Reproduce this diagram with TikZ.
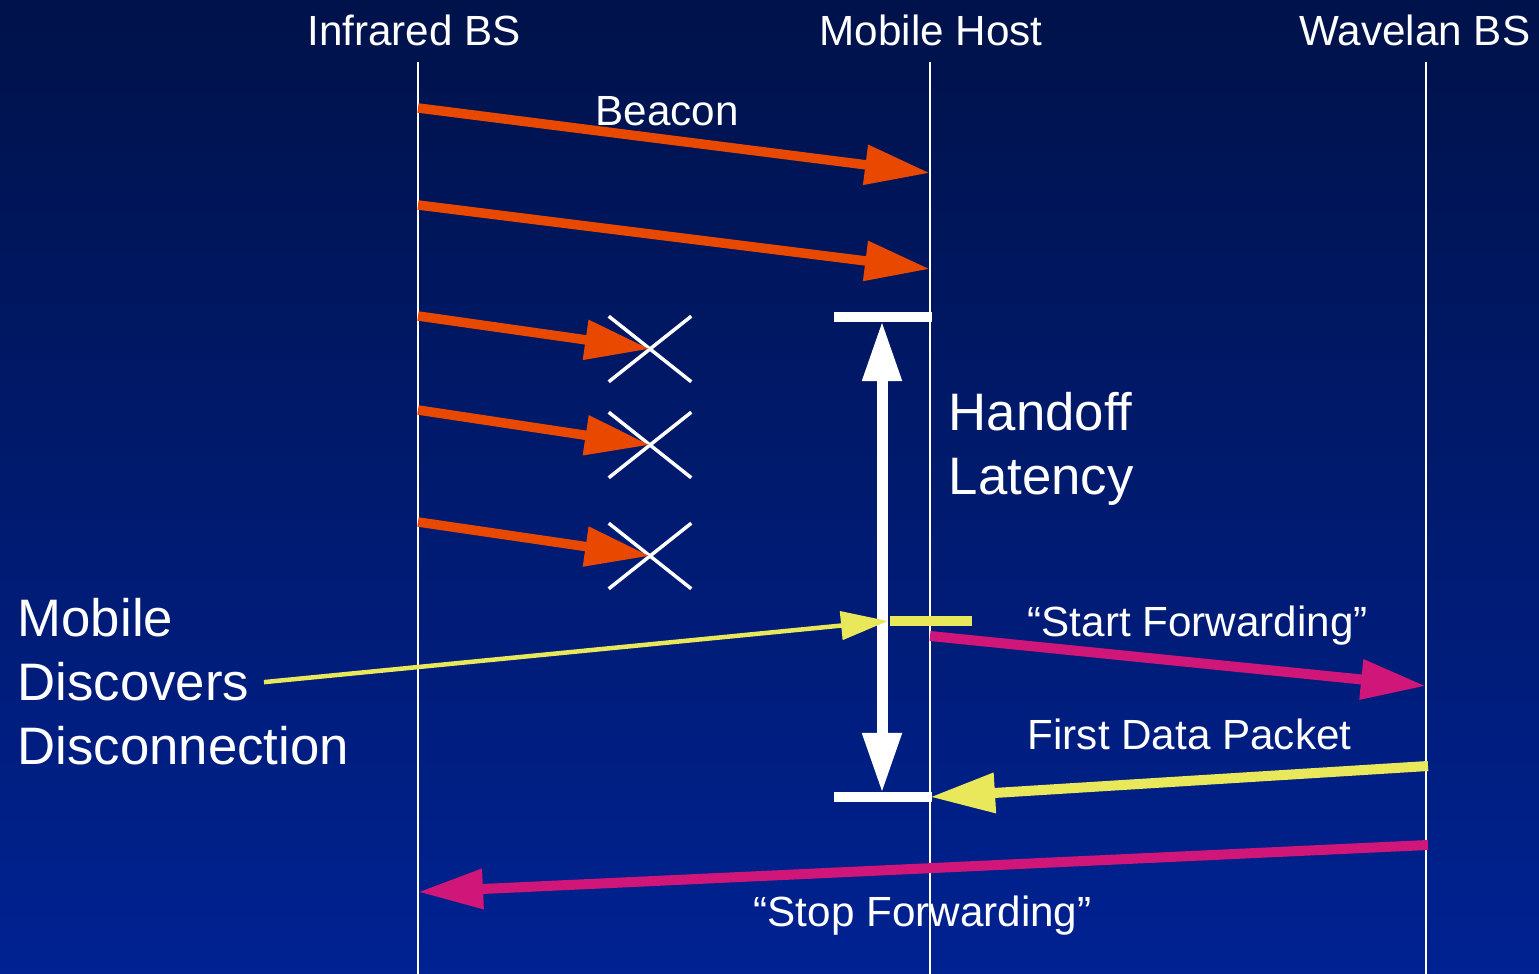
\documentclass[tikz,border=0pt]{standalone}
\usepackage{fontspec}
\setmainfont{Liberation Sans}
\usetikzlibrary{arrows.meta,shapes.misc}

\definecolor{bgtop}{RGB}{0,18,74}
\definecolor{bgbot}{RGB}{0,34,146}
\definecolor{beaconc}{RGB}{232,72,0}
\definecolor{signalc}{RGB}{232,232,90}
\definecolor{ctrlc}{RGB}{208,22,120}

\begin{document}
\begin{tikzpicture}[x=0.01cm,y=-0.01cm,
  lifeline/.style={white, line width=0.02cm},
  msg/.style={line width=0.095cm, -{Triangle[length=0.65cm,width=0.38cm]}},
  thinmsg/.style={line width=0.045cm, -{Triangle[length=0.47cm,width=0.28cm]}},
  label/.style={text=white, inner sep=0pt, font=\fontsize{12}{14}\selectfont},
  biglabel/.style={text=white, inner sep=0pt, font=\fontsize{15}{18}\selectfont},
  lost/.style={cross out, draw=white, line width=0.035cm, inner sep=0pt,
               minimum width=0.79cm, minimum height=0.62cm},
  bar/.style={white, line width=0.1cm},
]
% background
\shade[top color=bgtop, bottom color=bgbot] (0,0) rectangle (1539,974);
\useasboundingbox (0,0) rectangle (1539,974);

% column headings
\node[label, anchor=base] (ir) at (414,46) {Infrared BS};
\node[label, anchor=base] (mh) at (931,46) {Mobile Host};
\node[label, anchor=base east] (wl) at (1531,46) {Wavelan BS};

% lifelines
\coordinate (irT) at (418,62);  \coordinate (irB) at (418,974);
\coordinate (mhT) at (930,62);  \coordinate (mhB) at (930,974);
\coordinate (wlT) at (1426,62); \coordinate (wlB) at (1426,974);
\draw[lifeline] (irT) -- (irB);
\draw[lifeline] (mhT) -- (mhB);
\draw[lifeline] (wlT) -- (wlB);

% beacons that arrive
\coordinate (b1s) at (418,108); \coordinate (b1e) at (930,173);
\coordinate (b2s) at (418,205); \coordinate (b2e) at (930,269);
\draw[msg, beaconc] (b1s) -- (b1e);
\draw[msg, beaconc] (b2s) -- (b2e);
\node[label, anchor=base] (beacon) at (667,126) {Beacon};

% beacons that are lost
\node[lost] (x1) at (650,349) {};
\node[lost] (x2) at (650,445) {};
\node[lost] (x3) at (650,556) {};
\coordinate (b3s) at (418,316);
\coordinate (b4s) at (418,410);
\coordinate (b5s) at (418,522);
\draw[msg, beaconc] (b3s) -- (x1.center);
\draw[msg, beaconc] (b4s) -- (x2.center);
\draw[msg, beaconc] (b5s) -- (x3.center);

% handoff latency bracket
\coordinate (hTl) at (834,317); \coordinate (hTr) at (932,317);
\coordinate (hBl) at (834,797); \coordinate (hBr) at (932,797);
\coordinate (hTa) at (882,321); \coordinate (hBa) at (882,793);
\draw[bar] (hTl) -- (hTr);
\draw[bar] (hBl) -- (hBr);
\draw[white, line width=0.11cm,
      {Triangle[length=0.6cm,width=0.37cm]}-{Triangle[length=0.6cm,width=0.37cm]}]
      (hTa) -- (hBa);
\node[biglabel, anchor=base west] (hand1) at (948,431) {Handoff};
\node[biglabel, anchor=base west] (hand2) at (948,495) {Latency};

% disconnection discovered
\node[biglabel, anchor=base west] (mob1) at (17,637) {Mobile};
\node[biglabel, anchor=base west] (mob2) at (17,701) {Discovers};
\node[biglabel, anchor=base west] (mob3) at (17,765) {Disconnection};
\coordinate (discE) at (888,621);
\coordinate (barL) at (890,621); \coordinate (barR) at (972,621);
\draw[thinmsg, signalc] ([xshift=0.14cm]mob2.east) -- (discE);
\draw[signalc, line width=0.1cm] (barL) -- (barR);

% start forwarding
\coordinate (sfS) at (930,636); \coordinate (sfE) at (1426,686);
\draw[msg, ctrlc, line width=0.1cm] (sfS) -- (sfE);
\node[label, anchor=base west] (sf) at (1027,637) {“Start Forwarding”};

% first data packet
\coordinate (dpS) at (1428,766); \coordinate (dpE) at (930,797);
\draw[msg, signalc, line width=0.1cm] (dpS) -- (dpE);
\node[label, anchor=base west] (dp) at (1027,750) {First Data Packet};

% stop forwarding
\coordinate (stS) at (1428,845); \coordinate (stE) at (418,892);
\draw[msg, ctrlc, line width=0.1cm] (stS) -- (stE);
\node[label, anchor=base west] (st) at (753,927) {“Stop Forwarding”};
\end{tikzpicture}
\end{document}
